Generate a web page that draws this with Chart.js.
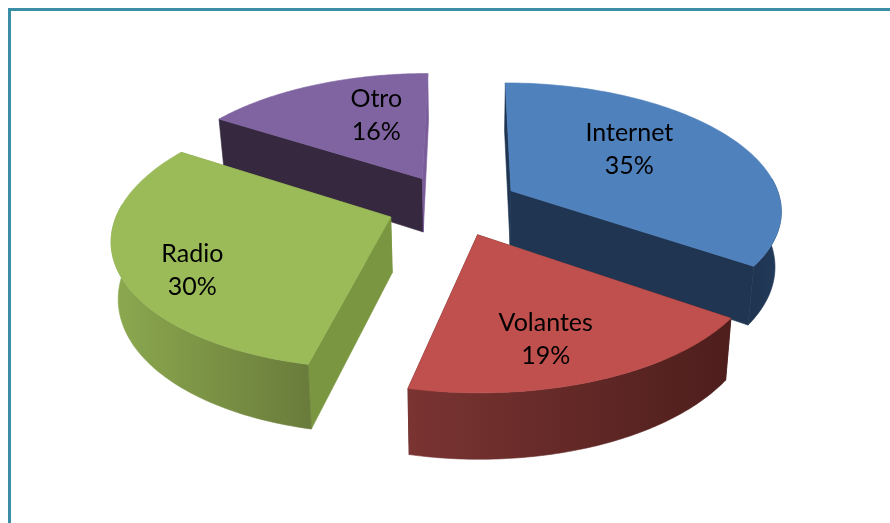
<!DOCTYPE html>
<html><head><meta charset="utf-8">
<style>
html,body{margin:0;padding:0;background:#fff;overflow:hidden}
#wrap{position:absolute;left:0;top:0;width:890px;height:523px}
#frame{position:absolute;left:8px;top:8px;width:900px;height:600px;border:3px solid #3a8ea6;box-sizing:border-box}
canvas{position:absolute;left:0;top:0}
</style>
<script src="https://cdn.jsdelivr.net/npm/chart.js@4/dist/chart.umd.min.js"></script>
</head><body>
<div id="wrap"><div id="frame"></div><canvas id="c" width="890" height="523"></canvas></div>
<script>
const categories = ['Internet','Volantes','Radio','Otro'];
const shares = [34.6,18.9,30.49,16.01];
const shareLabels = ['35%','19%','30%','16%'];
const topColors = ['#4F81BD','#C0504D','#9BBB59','#8064A2'];
const startWall = ['#1F3552','#4D1E1C','#7A9640','#35283F'];
const endWall = ['#1F3552','#4D1E1C','#7A9640','#7A5C9A'];
const rimLeft = ['#1F3552','#7A3432','#8CA94F','#3A2C47'];
const rimRight = ['#223A5A','#4D1E1C','#6A7C3B','#35283F'];
const paintOrder = [3,2,0,1];
const labelSpot = [[0.59,0.43],[0.73,0.565],[0.77,0.43],[0.605,0.66]];

// Perspective of the tilted pie plate
const view = {vx:466, vy:-700, A:271, C:-13, D:905, pv:0.14, pu:0.145, drop:55, shrink:0.98};
function project(X,Y,low){
  const wv = 1 + view.pv*Y, wu = 1 + view.pu*Y;
  let u = view.vx + (view.A*X + view.C)/wu;
  let v = view.vy + view.D/wv;
  if(low){ u = view.vx + (u-view.vx)*view.shrink; v += view.drop/wv; }
  return [u,v];
}
function wedge(arc){
  const p = arc.getProps(['startAngle','endAngle','outerRadius']);
  const mid = (p.startAngle+p.endAngle)/2, e = arc.options.offset/p.outerRadius;
  const ox = Math.cos(mid)*e, oy = -Math.sin(mid)*e;
  const at = (a,r,low)=>project(ox+r*Math.cos(a), oy-r*Math.sin(a), low);
  return {s:p.startAngle, t:p.endAngle, mid, at};
}
function poly(ctx,pts,fill){
  ctx.beginPath();
  pts.forEach((q,i)=> i?ctx.lineTo(q[0],q[1]):ctx.moveTo(q[0],q[1]));
  ctx.closePath();
  ctx.fillStyle = fill; ctx.fill();
  ctx.strokeStyle = fill; ctx.lineWidth = 0.6; ctx.stroke();
}
const pie3d = {
  id:'pie3d',
  beforeDatasetsDraw(chart){
    const ctx = chart.ctx, arcs = chart.getDatasetMeta(0).data;
    ctx.save();
    paintOrder.forEach(i=>{
      const g = wedge(arcs[i]), n = 90;
      const angles = [];
      for(let k=0;k<=n;k++) angles.push(g.s+(g.t-g.s)*k/n);
      const top = angles.map(a=>g.at(a,1,false));
      // radial cut walls
      poly(ctx,[g.at(g.s,0,false),g.at(g.s,1,false),g.at(g.s,1,true),g.at(g.s,0,true)],startWall[i]);
      poly(ctx,[g.at(g.t,0,false),g.at(g.t,1,false),g.at(g.t,1,true),g.at(g.t,0,true)],endWall[i]);
      // outer rim (only the part that faces the viewer), soft horizontal gradient
      const front = angles.filter(a=>Math.sin(a) > -0.1);
      if(front.length > 1){
        const upper = front.map(a=>g.at(a,1,false));
        const lower = front.map(a=>g.at(a,1,true));
        const xs = upper.map(q=>q[0]), x0 = Math.min(...xs), x1 = Math.max(...xs);
        const grad = ctx.createLinearGradient(x0,0,x1,0);
        grad.addColorStop(0,rimLeft[i]); grad.addColorStop(1,rimRight[i]);
        poly(ctx,upper.concat(lower.reverse()),grad);
      }
      // top face
      poly(ctx,[g.at(g.s,0,false)].concat(top),arcs[i].options.backgroundColor);
    });
    // labels
    ctx.fillStyle = '#000';
    ctx.font = '25px Lato';
    ctx.textAlign = 'center';
    ctx.textBaseline = 'middle';
    arcs.forEach((arc,i)=>{
      const g = wedge(arc), s = labelSpot[i];
      const q = g.at(g.s+(g.t-g.s)*s[1], s[0], false);
      ctx.fillText(categories[i], q[0], q[1]-16.5);
      ctx.fillText(shareLabels[i], q[0], q[1]+16.5);
    });
    ctx.restore();
    return false;
  }
};
new Chart(document.getElementById('c'),{
  type:'pie',
  data:{labels:categories,datasets:[{data:shares,backgroundColor:topColors,borderWidth:0,offset:57,hoverOffset:0}]},
  options:{responsive:false,animation:false,events:[],layout:{padding:0},
    plugins:{legend:{display:false},tooltip:{enabled:false},title:{display:false}}},
  plugins:[pie3d]
});
</script>
</body></html>
